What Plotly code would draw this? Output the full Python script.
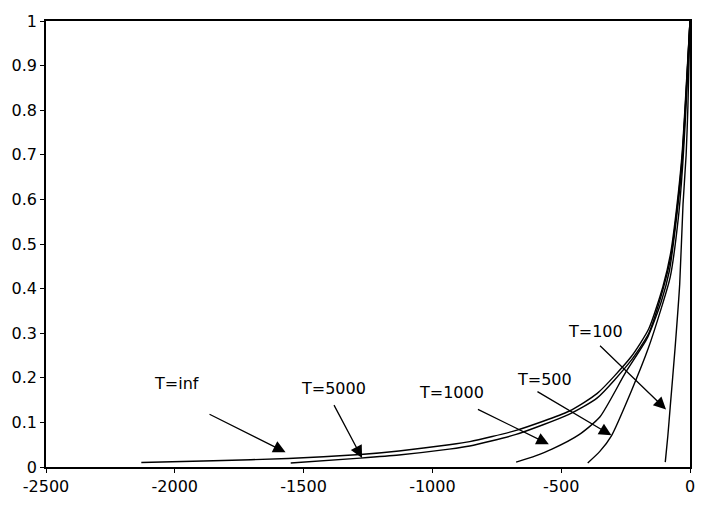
import plotly.graph_objects as go

# ---- data ----
t_inf_x = [-2130, -1850, -1560, -1280, -1130, -935, -855, -675, -470, -360, -230, -160, -105, -75, -50, -31, -19, -9, 0]
t_inf_y = [0.010, 0.014, 0.019, 0.028, 0.036, 0.050, 0.057, 0.082, 0.125, 0.165, 0.246, 0.310, 0.405, 0.480, 0.590, 0.700, 0.810, 0.910, 1.0]

t5000_x = [-1550, -1280, -1130, -935, -855, -675, -470, -360, -230, -160, -105, -75, -50, -31, -19, -9, 0]
t5000_y = [0.009, 0.020, 0.027, 0.040, 0.047, 0.073, 0.118, 0.155, 0.238, 0.300, 0.398, 0.470, 0.580, 0.690, 0.800, 0.905, 1.0]

t1000_x = [-675, -600, -536, -432, -350, -250, -165, -112, -80, -50, -31, -19, -9, 0]
t1000_y = [0.011, 0.025, 0.040, 0.072, 0.112, 0.212, 0.290, 0.370, 0.440, 0.570, 0.680, 0.790, 0.900, 1.0]

t500_x = [-397, -350, -305, -228, -162, -112, -77, -45, -28, -17, -8, 0]
t500_y = [0.009, 0.035, 0.070, 0.170, 0.266, 0.355, 0.425, 0.560, 0.680, 0.790, 0.895, 1.0]

t100_x = [-96, -86, -77, -58, -40, -27, -15, -8, 0]
t100_y = [0.011, 0.070, 0.133, 0.266, 0.410, 0.590, 0.700, 0.810, 1.0]

labels = ["T=inf", "T=5000", "T=1000", "T=500", "T=100"]
label_x = [-1995, -1385, -926, -563, -367]
label_y = [0.188, 0.175, 0.166, 0.197, 0.304]
arrow_tail_x = [-1871, -1385, -829, -598, -355]
arrow_tail_y = [0.120, 0.142, 0.131, 0.171, 0.275]
arrow_tip_x = [-1570, -1273, -548, -305, -93]
arrow_tip_y = [0.033, 0.020, 0.051, 0.071, 0.129]

x_tickvals = [-2500, -2000, -1500, -1000, -500, 0]
x_ticktext = ["-2500", "-2000", "-1500", "-1000", "-500", "0"]

FONT = "DejaVu Sans"

fig = go.Figure()
for xs, ys in [(t_inf_x, t_inf_y), (t5000_x, t5000_y), (t1000_x, t1000_y),
               (t500_x, t500_y), (t100_x, t100_y)]:
    fig.add_trace(go.Scatter(x=xs, y=ys, mode="lines",
                             line=dict(color="black", width=1.4, shape="spline", smoothing=0.6),
                             showlegend=False, hoverinfo="skip"))

for lab, lx, ly in zip(labels, label_x, label_y):
    fig.add_annotation(x=lx, y=ly, xref="x", yref="y", text=lab, showarrow=False,
                       font=dict(family=FONT, size=16, color="black"))

for tx, ty, hx, hy in zip(arrow_tail_x, arrow_tail_y, arrow_tip_x, arrow_tip_y):
    fig.add_annotation(x=hx, y=hy, ax=tx, ay=ty, xref="x", yref="y", axref="x", ayref="y",
                       text="", showarrow=True, arrowhead=2, arrowsize=1.9, arrowwidth=1.3,
                       arrowcolor="black", standoff=0, startstandoff=0)

fig.update_layout(
    width=707, height=508,
    margin=dict(l=44, r=15, t=15, b=41),
    paper_bgcolor="white", plot_bgcolor="white",
    font=dict(family=FONT, size=16, color="black"),
    showlegend=False,
)
fig.update_xaxes(range=[-2500, 0], tickvals=x_tickvals, ticktext=x_ticktext,
                 showgrid=False, zeroline=False, showline=True, linecolor="black",
                 linewidth=1.5, mirror=True, ticks="outside", ticklen=4, tickcolor="black",
                 tickfont=dict(family=FONT, size=16))
fig.update_yaxes(range=[0, 1], dtick=0.1, tick0=0,
                 showgrid=False, zeroline=False, showline=True, linecolor="black",
                 linewidth=1.5, mirror=True, ticks="outside", ticklen=4, tickcolor="black",
                 tickfont=dict(family=FONT, size=16))

fig.write_html("out.html", config={"displayModeBar": False},
               post_script="document.body.style.margin='0';")
